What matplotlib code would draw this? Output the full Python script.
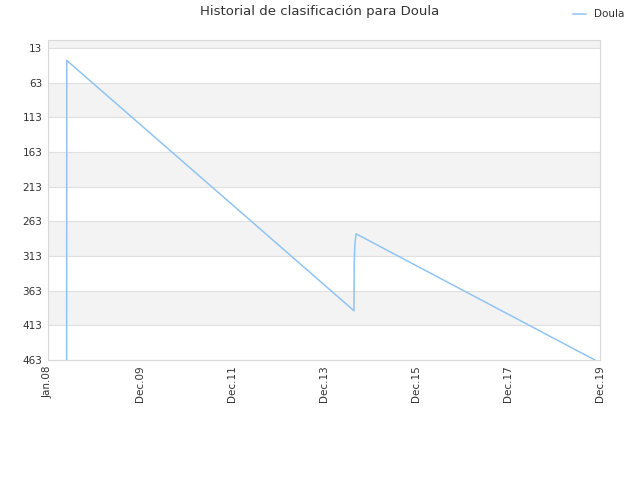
import matplotlib
matplotlib.use("Agg")
import matplotlib.pyplot as plt
import pandas as pd

# Data
dates = ["2008-05-28", "2008-05-29", "2014-08-26", "2014-08-28", "2014-09-02", "2014-09-11", "2019-11-20"]
ranks = [463, 31, 392, 323, 297, 281, 463]

x_ticks = ["2008-01-01", "2009-12-31", "2011-12-31", "2013-12-31", "2015-12-31", "2017-12-31", "2019-12-31"]
x_tick_labels = ["Jan.08", "Dec.09", "Dec.11", "Dec.13", "Dec.15", "Dec.17", "Dec.19"]
y_ticks = [13, 63, 113, 163, 213, 263, 313, 363, 413, 463]

title = "Historial de clasificación para Doula"
series_name = "Doula"

fig = plt.figure(figsize=(6.4, 4.8), dpi=100)
ax = fig.add_axes([0.075, 0.25, 0.8625, 0.6667])

d = pd.to_datetime(dates)
ax.plot(d, ranks, color="#90c4f4", linewidth=1.1, label=series_name)

ax.set_xlim(pd.Timestamp(x_ticks[0]), pd.Timestamp(x_ticks[-1]))
ax.set_ylim(463, 1.5)

# alternating bands
bands = [(-40, 13), (63, 113), (163, 213), (263, 313), (363, 413)]
for a, b in bands:
    ax.axhspan(a, b, color="#f3f3f3", zorder=0, lw=0)
for yv in y_ticks:
    ax.axhline(yv, color="#e0e0e0", lw=0.8, zorder=0.5)

ax.set_yticks(y_ticks)
ax.set_yticklabels([str(v) for v in y_ticks])
ax.set_xticks(pd.to_datetime(x_ticks))
ax.set_xticklabels(x_tick_labels, rotation=90)
ax.tick_params(axis="both", length=0, labelsize=7.5, colors="#333333", pad=4)

for s in ax.spines.values():
    s.set_color("#d8d8d8")
    s.set_linewidth(0.8)

fig.suptitle(title, x=0.5, y=0.99, fontsize=9.5, color="#333333")
fig.legend(loc="upper right", bbox_to_anchor=(0.99, 1.0), frameon=False, fontsize=7.5,
           handlelength=1.2, labelcolor="#333333")

fig.savefig("out.png", dpi=100)
